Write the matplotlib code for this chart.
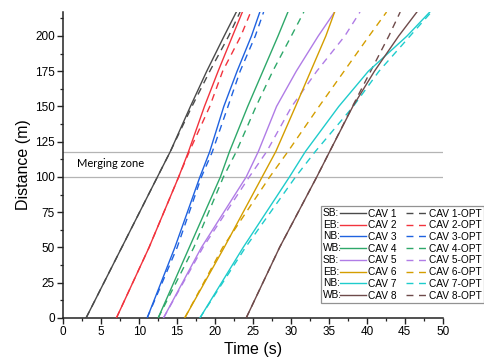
import matplotlib
matplotlib.use('Agg')
import matplotlib.pyplot as plt
from matplotlib.legend_handler import HandlerBase
from matplotlib.lines import Line2D
from matplotlib.text import Text

# distance levels (m) at which the trajectories were read
dist = [0, 50, 100, 118, 150, 175, 200, 217]

# arrival times (s) at those distances
t_cav1 = [3.0, 7.7, 12.4, 14.1, 16.75, 18.9, 21.2, 22.8]
t_cav1_opt = [3.0, 7.7, 12.4, 14.1, 16.95, 19.3, 21.8, 23.3]
t_cav2 = [7.0, 11.3, 15.2, 16.5, 18.6, 20.4, 22.3, 23.6]
t_cav2_opt = [7.0, 11.3, 15.2, 16.6, 19.3, 21.0, 23.4, 24.7]
t_cav3 = [11.05, 14.7, 18.0, 19.3, 21.15, 22.9, 24.8, 25.9]
t_cav3_opt = [11.05, 15.0, 18.2, 19.65, 21.7, 23.3, 25.3, 26.4]
t_cav4 = [12.5, 16.6, 20.7, 21.9, 24.3, 26.3, 28.3, 29.6]
t_cav4_opt = [12.5, 17.2, 21.1, 22.8, 25.4, 27.6, 30.05, 31.7]
t_cav5 = [13.2, 18.2, 24.1, 25.7, 28.1, 30.7, 33.6, 35.75]
t_cav5_opt = [13.2, 18.4, 24.5, 26.8, 30.1, 33.4, 37.1, 39.1]
t_cav6 = [16.0, 21.2, 26.2, 28.0, 30.6, 32.6, 34.6, 35.75]
t_cav6_opt = [16.0, 21.0, 27.2, 29.6, 33.7, 37.0, 40.3, 42.6]
t_cav7 = [18.0, 23.7, 29.8, 31.9, 36.3, 40.2, 45.3, 48.3]
t_cav7_opt = [18.0, 24.0, 30.6, 33.2, 38.2, 41.6, 45.7, 48.5]
t_cav8 = [24.1, 28.5, 33.4, 35.1, 38.15, 41.0, 44.2, 46.6]
t_cav8_opt = [24.1, 28.5, 33.4, 35.1, 38.1, 40.5, 42.9, 44.4]

actual = [t_cav1, t_cav2, t_cav3, t_cav4, t_cav5, t_cav6, t_cav7, t_cav8]
optimal = [t_cav1_opt, t_cav2_opt, t_cav3_opt, t_cav4_opt,
           t_cav5_opt, t_cav6_opt, t_cav7_opt, t_cav8_opt]
names = ['CAV %d' % i for i in range(1, 9)]
bounds = ['SB:', 'EB:', 'NB:', 'WB:', 'SB:', 'EB:', 'NB:', 'WB:']
colors = ['#4a4a4a', '#f2333d', '#1f62e0', '#2ea86a',
          '#b07ce6', '#d49e00', '#1ecccc', '#6e4a4a']

merge_zone = [100, 118]

FONT = 'Liberation Sans'


class PrefixHandler(HandlerBase):
    # draws "SB:" followed by a short solid line
    def __init__(self, prefix, frac=0.40):
        super().__init__()
        self.prefix = prefix
        self.frac = frac

    def create_artists(self, legend, orig_handle, xdescent, ydescent,
                       width, height, fontsize, trans):
        x0 = -xdescent
        y = -ydescent + height / 2.
        txt = Text(x0, y, self.prefix, fontsize=fontsize, va='center',
                   ha='left', family=FONT, color='black')
        txt.set_transform(trans)
        ln = Line2D([x0 + width * self.frac, x0 + width], [y, y],
                    color=orig_handle.get_color(),
                    lw=orig_handle.get_linewidth())
        ln.set_transform(trans)
        return [txt, ln]


class RightDashHandler(HandlerBase):
    # dashed line in the right part of the handle box
    def __init__(self, frac=0.48):
        super().__init__()
        self.frac = frac

    def create_artists(self, legend, orig_handle, xdescent, ydescent,
                       width, height, fontsize, trans):
        x0 = -xdescent
        y = -ydescent + height / 2.
        ln = Line2D([x0 + width * (1 - self.frac), x0 + width], [y, y],
                    color=orig_handle.get_color(),
                    lw=orig_handle.get_linewidth(), dashes=(5, 4))
        ln.set_transform(trans)
        return [ln]


plt.rcParams['font.family'] = FONT

fig = plt.figure(figsize=(4.85, 3.64), dpi=100)
ax = fig.add_axes([0.1305, 0.1264, 0.7823, 0.8406])

for y in merge_zone:
    ax.axhline(y, color='#b4b4b4', lw=0.9, zorder=1)
ax.text(1.75, 109.5, 'Merging zone', fontsize=8, family='Lato',
        va='center', ha='left')

solid_lines = []
dash_lines = []
for ts, to, c in zip(actual, optimal, colors):
    l1, = ax.plot(ts, dist, color=c, lw=1.0, zorder=3)
    l2, = ax.plot(to, dist, color=c, lw=1.0, dashes=(5, 4), zorder=2)
    solid_lines.append(l1)
    dash_lines.append(l2)

ax.set_xlim(0, 50)
ax.set_ylim(0, 217)
ax.set_xticks(range(0, 51, 5))
ax.set_xticks([x + 2.5 for x in range(0, 50, 5)], minor=True)
ax.set_yticks(range(0, 201, 25))
ax.set_yticks([y + 12.5 for y in range(0, 201, 25)], minor=True)
for s in ['top', 'right']:
    ax.spines[s].set_visible(False)
for s in ['left', 'bottom']:
    ax.spines[s].set_linewidth(1.1)
    ax.spines[s].set_color('#222222')
ax.tick_params(which='major', direction='out', length=4, width=1.0,
               labelsize=8.5, color='#222222', pad=2)
ax.tick_params(which='minor', direction='out', length=2.5, width=0.9,
               color='#222222')
ax.set_xlabel('Time (s)', fontsize=11.5, labelpad=3)
ax.set_ylabel('Distance (m)', fontsize=11.5, labelpad=3)

# legend: column 1 = actual (with bound prefix), column 2 = optimal
handles = solid_lines + dash_lines
labels = names + [n + '-OPT' for n in names]
hmap = {}
for l, b in zip(solid_lines, bounds):
    hmap[l] = PrefixHandler(b)
for l in dash_lines:
    hmap[l] = RightDashHandler()
leg = fig.legend(handles, labels, ncol=2, loc='upper right',
                 bbox_to_anchor=(0.998, 0.434), fontsize=7.3,
                 handlelength=4.2, handletextpad=0.2, columnspacing=-1.2,
                 labelspacing=0.17, borderpad=0.25, borderaxespad=0,
                 frameon=True, fancybox=False, handler_map=hmap)
leg.get_frame().set_edgecolor('#777777')
leg.get_frame().set_linewidth(0.9)

fig.savefig('out.png', dpi=100)
